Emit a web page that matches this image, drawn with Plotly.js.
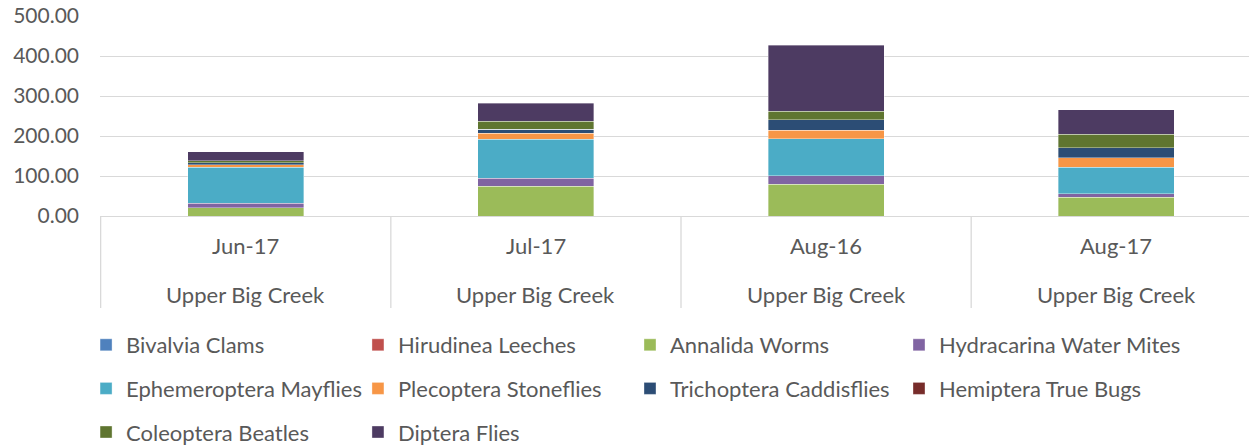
<!DOCTYPE html>
<html>
<head>
<meta charset="utf-8">
<script src="https://cdn.plot.ly/plotly-3.0.1.min.js"></script>
<style>html,body{margin:0;padding:0;overflow:hidden;background:#fff;}#chart{width:1262px;height:448px;}</style>
</head>
<body>
<div id="chart"></div>
<script>
const dates = ["Jun-17", "Jul-17", "Aug-16", "Aug-17"];
const site = "Upper Big Creek";
const seriesNames = [
  "Bivalvia Clams", "Hirudinea Leeches", "Annalida Worms", "Hydracarina Water Mites",
  "Ephemeroptera Mayflies", "Plecoptera Stoneflies", "Trichoptera Caddisflies", "Hemiptera True Bugs",
  "Coleoptera Beatles", "Diptera Flies"
];
const bivalvia = [0, 0, 0, 0];
const hirudinea = [0, 0, 0, 0];
const annalida = [21, 74.5, 78.8, 47];
const hydracarina = [11, 19.3, 21.6, 8.3];
const ephemeroptera = [89.5, 98.7, 92.9, 66.3];
const plecoptera = [7, 15, 21.7, 24];
const trichoptera = [5, 10, 26, 25];
const hemiptera = [0, 0, 0, 0];
const coleoptera = [5, 20, 21, 34];
const diptera = [22, 44.4, 164.6, 61];
const seriesValues = [bivalvia, hirudinea, annalida, hydracarina, ephemeroptera, plecoptera, trichoptera, hemiptera, coleoptera, diptera];
const colors = ["#4f81bd", "#c0504d", "#9bbb59", "#8064a2", "#4bacc6", "#f79646", "#2c4d75", "#772c2a", "#5f7530", "#4d3b62"];
const yTicks = [0, 100, 200, 300, 400, 500];

const FONT = "Lato, 'Open Sans', sans-serif";
const TXT = "#595959";
// legend entries laid out in 4 columns (row-major like the original)
const legendIds = ["legend", "legend2", "legend3", "legend4", "legend", "legend2", "legend3", "legend4", "legend", "legend2"];

const traces = seriesNames.map((n, i) => ({
  type: "bar",
  name: n,
  x: dates,
  y: seriesValues[i],
  marker: {color: colors[i], line: {color: "rgba(255,255,255,0.6)", width: 0.6}},
  legend: legendIds[i],
  legendgroup: "g" + i,
  hoverinfo: "x+y+name"
}));

const annotations = [];
dates.forEach(d => {
  annotations.push({x: d, xref: "x", y: -0.15, yref: "paper", text: d, showarrow: false, yanchor: "middle", font: {family: FONT, size: 22, color: TXT}});
  annotations.push({x: d, xref: "x", y: -0.39, yref: "paper", text: site, showarrow: false, yanchor: "middle", font: {family: FONT, size: 22, color: TXT}});
});
const shapes = [];
for (let i = 0; i <= dates.length; i++) {
  shapes.push({type: "line", xref: "x", yref: "paper", x0: i - 0.5, x1: i - 0.5, y0: 0, y1: -0.46, line: {color: "#d9d9d9", width: 1.3}});
}

const legendBase = {
  orientation: "v", xanchor: "left", yanchor: "top", y: -0.54,
  traceorder: "grouped", tracegroupgap: 12,
  font: {family: FONT, size: 22, color: TXT}, bgcolor: "rgba(0,0,0,0)"
};

const layout = {
  width: 1262, height: 448,
  margin: {l: 100, r: 0, t: 16, b: 232, autoexpand: false},
  paper_bgcolor: "#fff", plot_bgcolor: "#fff",
  barmode: "stack", bargap: 0.6,
  xaxis: {type: "category", showticklabels: false, showgrid: false, zeroline: false, showline: false, ticks: "", fixedrange: true},
  yaxis: {range: [0, 500], tickvals: yTicks, tickformat: ".2f", showgrid: true, gridcolor: "#d9d9d9", gridwidth: 1.3,
          zeroline: true, zerolinecolor: "#d9d9d9", zerolinewidth: 1.3, ticks: "", ticklabelstandoff: 20,
          tickfont: {family: FONT, size: 21, color: TXT}, fixedrange: true},
  showlegend: true,
  legend: Object.assign({}, legendBase, {x: -0.012}),
  legend2: Object.assign({}, legendBase, {x: 0.222}),
  legend3: Object.assign({}, legendBase, {x: 0.4561}),
  legend4: Object.assign({}, legendBase, {x: 0.6876}),
  annotations: annotations,
  shapes: shapes
};

Plotly.newPlot("chart", traces, layout, {displayModeBar: false});
</script>
</body>
</html>
